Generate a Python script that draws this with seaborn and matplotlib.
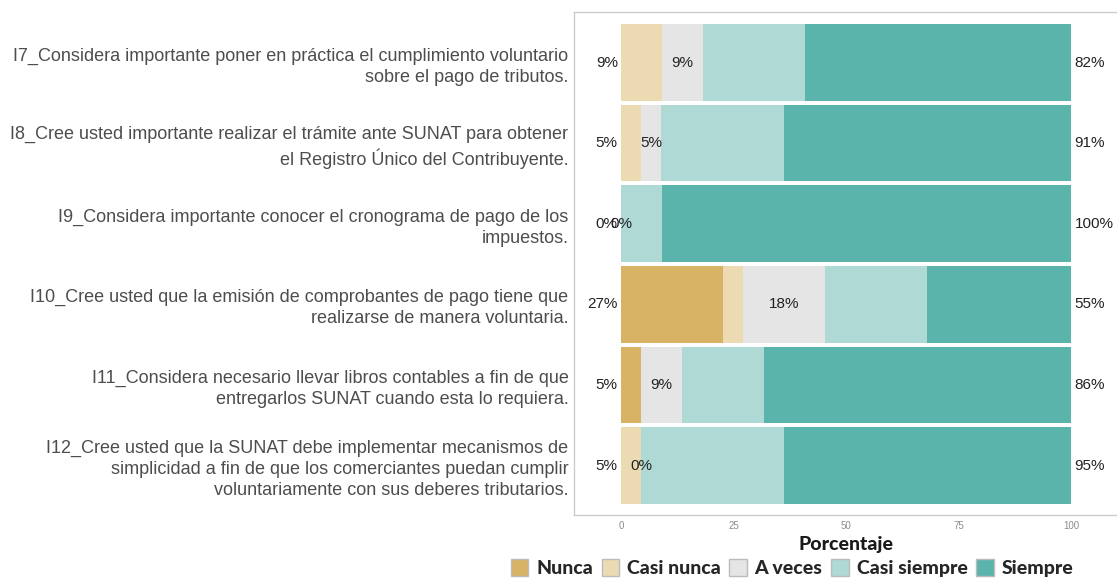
import matplotlib
matplotlib.use('Agg')
import matplotlib.pyplot as plt
from matplotlib.patches import Patch
import numpy as np
import pandas as pd
import seaborn as sns

# items (top to bottom)
items = [
    'I7_Considera importante poner en práctica el cumplimiento voluntario\nsobre el pago de tributos.',
    'I8_Cree usted importante realizar el trámite ante SUNAT para obtener\nel Registro Único del Contribuyente.',
    'I9_Considera importante conocer el cronograma de pago de los\nimpuestos.',
    'I10_Cree usted que la emisión de comprobantes de pago tiene que\nrealizarse de manera voluntaria.',
    'I11_Considera necesario llevar libros contables a fin de que\nentregarlos SUNAT cuando esta lo requiera.',
    'I12_Cree usted que la SUNAT debe implementar mecanismos de\nsimplicidad a fin de que los comerciantes puedan cumplir\nvoluntariamente con sus deberes tributarios.',
]
levels = ['Nunca', 'Casi nunca', 'A veces', 'Casi siempre', 'Siempre']

# percentages per level
nunca = [0.0, 0.0, 0.0, 22.7, 4.5, 0.0]
casi_nunca = [9.1, 4.5, 0.0, 4.5, 0.0, 4.5]
a_veces = [9.1, 4.5, 0.0, 18.2, 9.1, 0.0]
casi_siempre = [22.7, 27.3, 9.1, 22.7, 18.2, 31.8]
siempre = [59.1, 63.6, 90.9, 31.8, 68.2, 63.6]

# summary labels
low_lbl = ['9%', '5%', '0%', '27%', '5%', '5%']
mid_lbl = ['9%', '5%', '0%', '18%', '9%', '0%']
high_lbl = ['82%', '91%', '100%', '55%', '86%', '95%']

colors = ['#D8B365', '#ECDAB2', '#E5E5E5', '#AED9D5', '#5AB4AC']

df = pd.DataFrame({'item': items, 'Nunca': nunca, 'Casi nunca': casi_nunca,
                   'A veces': a_veces, 'Casi siempre': casi_siempre, 'Siempre': siempre})
cum = df[levels].cumsum(axis=1)

sns.set_style('white')
plt.rcParams['font.family'] = ['Liberation Sans', 'DejaVu Sans']

fig = plt.figure(figsize=(11.17, 5.78), dpi=100)
ax = fig.add_axes([574 / 1117, 1 - 515 / 578, 1 - 574 / 1117, (515 - 12) / 578])

# stacked bars drawn as overlapping cumulative bars
for lev, col in reversed(list(zip(levels, colors))):
    sns.barplot(x=cum[lev], y=df['item'], orient='h', color=col, width=0.95,
                saturation=1, ax=ax, linewidth=0)

low = np.array(nunca) + np.array(casi_nunca)
mid_pos = low + np.array(a_veces) / 2
for i in range(len(items)):
    ax.text(-0.7, i, low_lbl[i], ha='right', va='center', fontsize=11, color='#222222')
    ax.text(mid_pos[i], i, mid_lbl[i], ha='center', va='center', fontsize=11, color='#222222')
    ax.text(100.8, i, high_lbl[i], ha='left', va='center', fontsize=11, color='#222222')

ax.set_xlim(-10.44, 110.22)
ax.set_ylim(5.614, -0.627)
ax.set_xticks([0, 25, 50, 75, 100])
ax.set_xticklabels(['0', '25', '50', '75', '100'], fontsize=7, color='#8C8C8C')
ax.tick_params(axis='y', length=0, pad=4, labelsize=13, labelcolor='#4D4D4D')
ax.tick_params(axis='x', length=0, pad=4)
for t in ax.get_yticklabels():
    t.set_linespacing(1.3)
ax.set_ylabel('')
ax.set_xlabel('Porcentaje', fontsize=14, fontweight='black', family=['Lato', 'DejaVu Sans'],
              color='#1A1A1A', labelpad=4)
for s in ['left', 'top', 'bottom']:
    ax.spines[s].set_color('#CCCCCC')
    ax.spines[s].set_linewidth(1)
ax.spines['right'].set_visible(False)

handles = [Patch(facecolor=c, edgecolor='#BBBBBB', label=l) for l, c in zip(levels, colors)]
fig.legend(handles=handles, loc='center', bbox_to_anchor=(792 / 1117, 1 - 568 / 578), ncol=5,
           frameon=False, handlelength=0.9, handleheight=1.0, handletextpad=0.4, columnspacing=0.45,
           prop={'family': ['Lato', 'DejaVu Sans'], 'weight': 'black', 'size': 14})

fig.savefig('out.png', dpi=100)
